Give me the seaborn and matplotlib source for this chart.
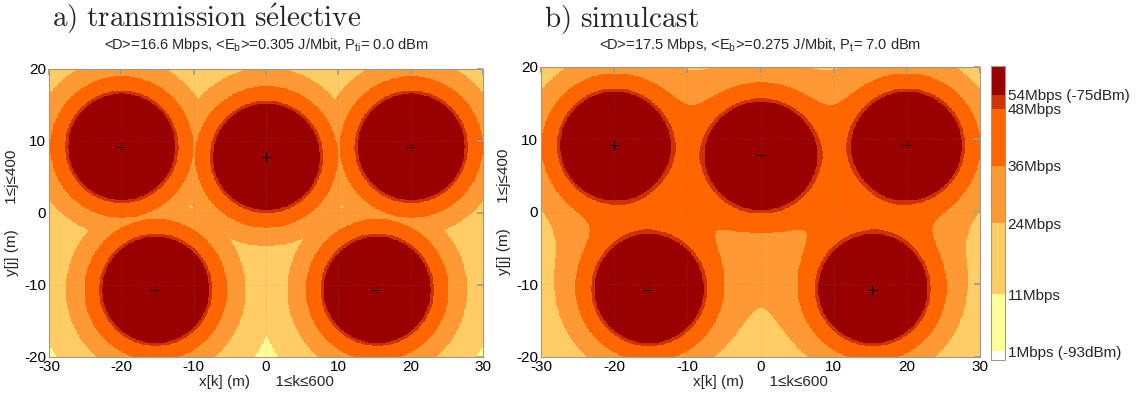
import numpy as np
import matplotlib
matplotlib.use("Agg")
import matplotlib.pyplot as plt
from matplotlib.colors import ListedColormap, BoundaryNorm
import seaborn as sns

# positions des points d'accès (m)
ap_x = [-20.0, 0.0, 20.0, -15.3, 15.3]
ap_y = [9.2, 7.8, 9.2, -10.7, -10.7]

# seuils de sensibilité (dBm) et débits associés
seuils_dbm = [-93, -89, -84, -80, -76, -75]
debits = ["1Mbps (-93dBm)", "11Mbps", "24Mbps", "36Mbps", "48Mbps", "54Mbps (-75dBm)"]
couleurs = ["#ffffff", "#ffff99", "#ffcc66", "#ff9933", "#ff6600", "#cc3300", "#990000"]
cb_min, cb_max = -93.6, -73.0

# modèle de propagation (rayon du disque 54 Mbps et exposant)
r54 = 7.4
n_pl = 4.0

titres = [r"$\mathrm{a)\ transmission\ s\acute{e}lective}$", r"$\mathrm{b)\ simulcast}$"]
sous_titres = [r"<D>=16.6 Mbps, <E$_\mathrm{b}$>=0.305 J/Mbit, P$_\mathrm{ti}$= 0.0 dBm",
               r"<D>=17.5 Mbps, <E$_\mathrm{b}$>=0.275 J/Mbit, P$_\mathrm{t}$= 7.0 dBm"]

# grille 600 x 400
x = np.linspace(-30, 30, 600)
y = np.linspace(-20, 20, 400)
X, Y = np.meshgrid(x, y)
P = []
for xa, ya in zip(ap_x, ap_y):
    d = np.hypot(X - xa, Y - ya) + 1e-3
    P.append(-75 - 10 * n_pl * np.log10(d / r54))
P = np.array(P)
p_sel = P.max(axis=0)                                  # meilleur point d'accès
p_sim = 10 * np.log10((10 ** (P / 10)).sum(axis=0))    # somme des puissances

sns.set_theme(style="white")
cadre = "#a09a8c"
plt.rcParams["font.family"] = ["Liberation Sans", "DejaVu Sans"]
plt.rcParams["mathtext.fontset"] = "custom"
plt.rcParams["mathtext.rm"] = "Liberation Sans"
plt.rcParams["mathtext.it"] = "Liberation Sans:italic"
plt.rcParams["axes.edgecolor"] = cadre
plt.rcParams["axes.linewidth"] = 0.8
plt.rcParams["axes.unicode_minus"] = False

cmap = ListedColormap(couleurs[1:-1])
cmap.set_under(couleurs[0])
cmap.set_over(couleurs[-1])
cmap_cb = ListedColormap(couleurs)
bornes = [cb_min] + seuils_dbm + [cb_max]
norm_cb = BoundaryNorm(bornes, len(couleurs))
norm = BoundaryNorm(seuils_dbm, len(couleurs) - 2)

fig = plt.figure(figsize=(11.38, 3.99), dpi=100)
ax1 = fig.add_axes([0.0431, 0.1053, 0.3814, 0.7218])
ax2 = fig.add_axes([0.4754, 0.1053, 0.3858, 0.7268])
cax = fig.add_axes([0.8708, 0.0977, 0.0123, 0.7368])

for ax, champ, titre, st in zip([ax1, ax2], [p_sel, p_sim], titres, sous_titres):
    ax.imshow(champ, origin="lower", extent=[-30, 30, -20, 20], aspect="auto",
              cmap=cmap, norm=norm, interpolation="nearest")
    sns.scatterplot(x=ap_x, y=ap_y, marker="+", color="black", s=60,
                    linewidth=0.6, ax=ax, legend=False, zorder=5)
    ax.set_xlim(-30, 30)
    ax.set_ylim(-20, 20)
    ax.set_xticks(range(-30, 31, 10))
    ax.set_yticks(range(-20, 21, 10))
    ax.set_axisbelow(False)
    ax.grid(True, color="#808080", alpha=0.3, lw=0.6, ls=":")
    ax.tick_params(direction="in", length=4, color=cadre, labelsize=11, pad=2,
                   top=True, right=True, labelcolor="black")
    ax.set_xlabel("x[k] (m)      1≤k≤600", fontsize=11, labelpad=1)
    ax.set_ylabel("y[j] (m)      1≤j≤400", fontsize=11, labelpad=4)
    pos = ax.get_position()
    fig.text(pos.x0 + 0.003, 1 - 27 / 399, titre, fontsize=21,
             math_fontfamily="cm", va="baseline", ha="left")
    fig.text((pos.x0 + pos.x1) / 2, 1 - 49 / 399, st, fontsize=10.5,
             va="baseline", ha="center")

sm = plt.cm.ScalarMappable(norm=norm_cb, cmap=cmap_cb)
cb = fig.colorbar(sm, cax=cax, spacing="proportional", ticks=seuils_dbm)
cb.ax.set_yticklabels(debits)
cb.ax.minorticks_off()
cb.ax.tick_params(labelsize=11, length=3, direction="in", color=cadre, pad=2)
cb.outline.set_edgecolor(cadre)

fig.savefig("out.png", dpi=100)
